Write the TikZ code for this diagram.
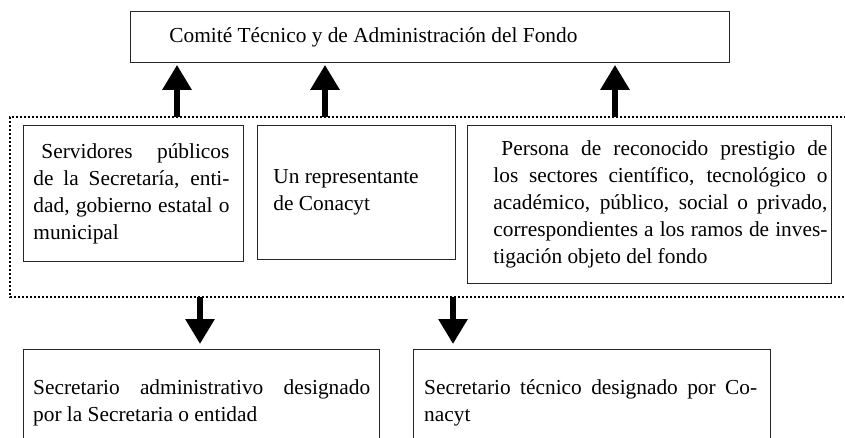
\documentclass[tikz,border=0pt]{standalone}
\usepackage{fontspec}
\setmainfont{Liberation Serif}
\usetikzlibrary{arrows.meta}
\newcommand{\jl}[1]{\makebox[\linewidth][s]{#1}}
\begin{document}
\begin{tikzpicture}[x=1pt,y=-1pt,
  boxline/.style={draw=black!85, line width=0.9pt},
  txtbox/.style={boxline, inner sep=0pt, anchor=north west},
  openbox/.style={draw=none, inner sep=0pt, anchor=north west},
  bigarrow/.style={line width=6pt, -{Triangle[width=28pt,length=25pt]}},
  dotframe/.style={line width=2.2pt, dash pattern=on 2pt off 2pt},
  font=\fontsize{21.35pt}{27pt}\selectfont]
\useasboundingbox (0,0) rectangle (845,437);
\clip (0,0) rectangle (845,437);
\fill[white] (0,0) rectangle (845,437);

% top box
\node[txtbox, minimum width=599pt, minimum height=51pt] (top) at (130,11)
  {\makebox[599pt][l]{\hspace*{39pt}Comité Técnico y de Administración del Fondo}};

% members
\node[txtbox, minimum width=220pt, minimum height=136pt] (s1) at (23,125)
  {\makebox[220pt][l]{\hspace*{10pt}\parbox[c]{196pt}{%
    \jl{\hspace*{8pt}Servidores públicos}\\
    \jl{de la Secretaría, enti-}\\
    \jl{dad, gobierno estatal o}\\
    municipal}}};
\node[txtbox, minimum width=198pt, minimum height=134pt] (s2) at (257,125)
  {\makebox[198pt][l]{\hspace*{16pt}\parbox[c]{170pt}{%
    Un representante\\
    de Conacyt}}};
\node[txtbox, minimum width=364pt, minimum height=158pt] (s3) at (467,125)
  {\makebox[364pt][l]{\hspace*{26pt}\parbox[c]{334pt}{%
    \jl{\hspace*{8pt}Persona de reconocido prestigio de}\\
    \jl{los sectores científico, tecnológico o}\\
    \jl{académico, público, social o privado,}\\
    \jl{correspondientes a los ramos de inves-}\\
    tigación objeto del fondo}}};

% dotted frame
\coordinate (ftl) at (10,117);
\coordinate (fbl) at (10,297);
\coordinate (ftr) at (850,117);
\coordinate (fbr) at (850,297);
\draw[dotframe] (ftr) -- (ftl) -- (fbl) -- (fbr);

% secretaries
\node[openbox, minimum width=356pt, minimum height=107pt] (bA) at (23,349)
  {\makebox[356pt][l]{\hspace*{10pt}\parbox[c]{337pt}{%
    \jl{Secretario administrativo designado}\\
    por la Secretaria o entidad}}};
\node[openbox, minimum width=357pt, minimum height=107pt] (bB) at (413,349)
  {\makebox[357pt][l]{\hspace*{11pt}\parbox[c]{333pt}{%
    \jl{Secretario técnico designado por Co-}\\
    nacyt}}};
\draw[boxline] (bA.south west) -- (bA.north west) -- (bA.north east) -- (bA.south east);
\draw[boxline] (bB.south west) -- (bB.north west) -- (bB.north east) -- (bB.south east);

% arrows up
\coordinate (u1) at (177,117);
\coordinate (u2) at (325,117);
\coordinate (u3) at (615,117);
\draw[bigarrow, shorten >=2pt] (u1) -- (u1 |- top.south);
\draw[bigarrow, shorten >=2pt] (u2) -- (u2 |- top.south);
\draw[bigarrow, shorten >=2pt] (u3) -- (u3 |- top.south);

% arrows down
\coordinate (d1) at (200,297);
\coordinate (d2) at (453,297);
\draw[bigarrow, shorten >=5pt] (d1) -- (d1 |- bA.north);
\draw[bigarrow, shorten >=5pt] (d2) -- (d2 |- bB.north);
\end{tikzpicture}
\end{document}
